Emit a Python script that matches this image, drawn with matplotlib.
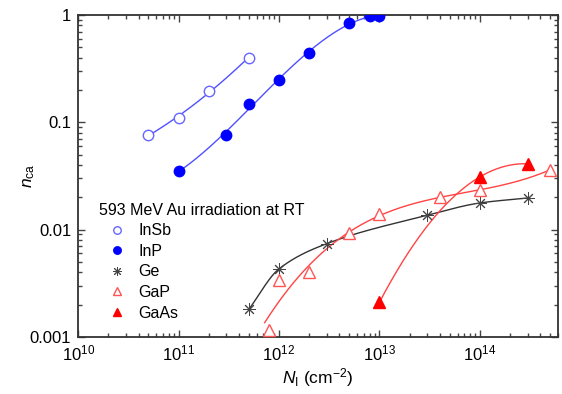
import numpy as np
import matplotlib
matplotlib.use("Agg")
import matplotlib.pyplot as plt
from matplotlib.ticker import LogLocator, NullFormatter, FixedLocator, FixedFormatter

plt.rcParams['font.family'] = ['Liberation Sans', 'DejaVu Sans']
plt.rcParams['mathtext.fontset'] = 'custom'
plt.rcParams['mathtext.rm'] = 'Liberation Sans'
plt.rcParams['mathtext.it'] = 'Liberation Sans:italic'

# Data (fluence in cm^-2, n_ca)
insb_x = [5e10, 1e11, 2e11, 5e11]
insb_y = [0.076, 0.11, 0.195, 0.40]
inp_x = [1e11, 3e11, 5e11, 1e12, 2e12, 5e12, 8e12, 1e13]
inp_y = [0.035, 0.076, 0.148, 0.25, 0.44, 0.84, 0.98, 0.98]
ge_x = [5e11, 1e12, 3e12, 3e13, 1e14, 3e14]
ge_y = [0.0018, 0.0043, 0.0074, 0.0136, 0.0177, 0.0197]
gap_x = [8e11, 1e12, 2e12, 5e12, 1e13, 4e13, 1e14, 5e14]
gap_y = [0.00115, 0.0034, 0.0040, 0.0092, 0.014, 0.020, 0.0235, 0.036]
gaas_x = [1e13, 1e14, 3e14]
gaas_y = [0.0021, 0.031, 0.041]

fig = plt.figure(figsize=(5.62, 3.94), dpi=100)
ax = fig.add_axes([0.139, 0.145, 0.854, 0.817])
ax.set_xscale('log')
ax.set_yscale('log')
ax.set_xlim(1e10, 6e14)
ax.set_ylim(1e-3, 1)


def pchip(x, y, xs):
    x = np.asarray(x, float); y = np.asarray(y, float)
    h = np.diff(x); d = np.diff(y) / h
    n = len(x); m = np.zeros(n)
    for k in range(1, n - 1):
        if d[k - 1] * d[k] > 0:
            w1 = 2 * h[k] + h[k - 1]; w2 = h[k] + 2 * h[k - 1]
            m[k] = (w1 + w2) / (w1 / d[k - 1] + w2 / d[k])
    m[0] = d[0]; m[-1] = d[-1]
    idx = np.clip(np.searchsorted(x, xs) - 1, 0, n - 2)
    t = (xs - x[idx]) / h[idx]
    h00 = 2 * t**3 - 3 * t**2 + 1; h10 = t**3 - 2 * t**2 + t
    h01 = -2 * t**3 + 3 * t**2; h11 = t**3 - t**2
    return h00 * y[idx] + h10 * h[idx] * m[idx] + h01 * y[idx + 1] + h11 * h[idx] * m[idx + 1]


def fitline(x, y, deg, x0=None, x1=None, color='b'):
    lx, ly = np.log10(x), np.log10(y)
    a = np.log10(x0) if x0 else lx.min()
    b = np.log10(x1) if x1 else lx.max()
    xs = np.linspace(a, b, 300)
    if deg == 'pchip':
        ys = pchip(lx, ly, xs)
    else:
        ys = np.polyval(np.polyfit(lx, ly, deg), xs)
    ax.plot(10**xs, 10**ys, '-', color=color, lw=1.0, zorder=2)


fitline(insb_x, insb_y, 2, color='#5050ff')
fitline(inp_x, inp_y, 3, color='#5050ff')
fitline(ge_x, ge_y, 'pchip', color='#333333')
fitline(gap_x, gap_y, 3, x0=7.2e11, color='#ff4444')
fitline(gaas_x, gaas_y, 2, color='#ff4444')

ms = 7.5
ax.plot(insb_x, insb_y, 'o', ls='none', mfc='white', mec='#6666ff', mew=1.0, ms=ms, label='InSb', zorder=3)
ax.plot(inp_x, inp_y, 'o', ls='none', mfc='#0000ff', mec='#0000ff', ms=ms, label='InP', zorder=3)
ax.plot(ge_x, ge_y, ls='none', marker=(8, 2, 0), color='#444444', mew=0.7, ms=9, label='Ge', zorder=3)
ax.plot(gap_x, gap_y, '^', ls='none', mfc='white', mec='#ff5555', mew=1.0, ms=ms + 0.5, label='GaP', zorder=3)
ax.plot(gaas_x, gaas_y, '^', ls='none', mfc='#ff0000', mec='#ff0000', ms=ms + 0.5, label='GaAs', zorder=3)

leg = ax.legend(loc='upper left', bbox_to_anchor=(0.031, 0.437), frameon=False,
                title='593 MeV Au irradiation at RT', title_fontsize=11.5, fontsize=11.5,
                handletextpad=0.2, labelspacing=0.35, borderaxespad=0, handlelength=2.25,
                markerscale=0.72, numpoints=1)
leg._legend_box.align = 'left'

ax.xaxis.set_major_locator(FixedLocator([1e10, 1e11, 1e12, 1e13, 1e14]))
ax.xaxis.set_major_formatter(FixedFormatter([r'10$^{10}$', r'10$^{11}$', r'10$^{12}$', r'10$^{13}$', r'10$^{14}$']))
ax.xaxis.set_minor_locator(LogLocator(base=10, subs=np.arange(2, 10), numticks=20))
ax.xaxis.set_minor_formatter(NullFormatter())
ax.yaxis.set_major_locator(FixedLocator([1e-3, 1e-2, 1e-1, 1]))
ax.yaxis.set_major_formatter(FixedFormatter(['0.001', '0.01', '0.1', '1']))
ax.yaxis.set_minor_locator(LogLocator(base=10, subs=np.arange(2, 10), numticks=20))
ax.yaxis.set_minor_formatter(NullFormatter())

ax.tick_params(which='both', direction='in', top=True, right=True, width=1.0, color='#444444')
ax.tick_params(which='major', length=5, labelsize=12, pad=5)
ax.tick_params(which='minor', length=3)
for s in ax.spines.values():
    s.set_linewidth(1.3)
    s.set_color('#333333')

ax.set_xlabel(r'$N_\mathrm{I}$ (cm$^{-2}$)', fontsize=12.5, labelpad=2)
ax.set_ylabel(r'$n_\mathrm{ca}$', fontsize=12.5, labelpad=-5)

fig.savefig('out.png', dpi=100)
